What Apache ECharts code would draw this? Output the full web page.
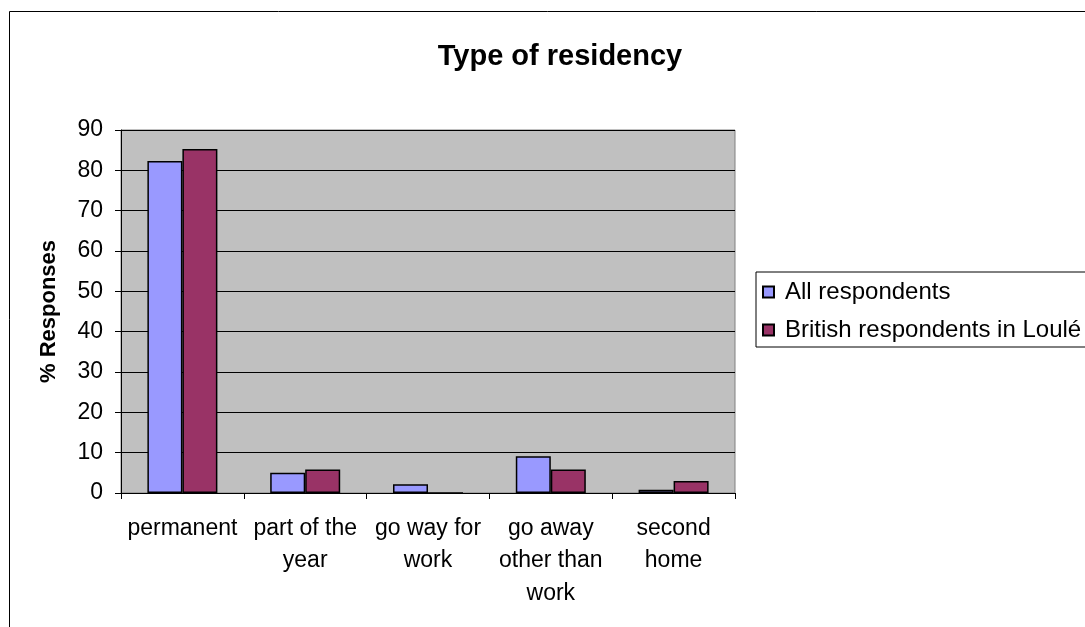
<!DOCTYPE html>
<html>
<head>
<meta charset="utf-8">
<title>Type of residency</title>
<script src="https://cdn.jsdelivr.net/npm/echarts@6/dist/echarts.min.js"></script>
<style>
	html, body { margin: 0; padding: 0; background: #fff; }
	#main { width: 1085px; height: 627px; }
</style>
</head>
<body>
<div id="main"></div>
<script>
// categories (with the line breaks of the original labels)
var categories = ['permanent', 'part of the\nyear', 'go way for\nwork', 'go away\nother than\nwork', 'second\nhome'];
var allRespondents = [82.3, 5, 2.2, 9.1, 0.8];
var britishLoule = [85.3, 5.8, 0, 5.8, 3];
var seriesNames = ['All respondents', 'British respondents in Loulé'];
var yTicks = [0, 10, 20, 30, 40, 50, 60, 70, 80, 90];

function initChart() {
	var font = 'Liberation Sans, Arial, sans-serif';
	var myChart = echarts.init(document.getElementById('main'));
	var option = {
		animation: false,
		textStyle: { fontFamily: font, color: '#000' },
		title: {
			text: 'Type of residency',
			left: 555,
			top: 37,
			textAlign: 'center',
			textStyle: { fontFamily: font, fontSize: 29, fontWeight: 'bold', color: '#000' }
		},
		// outer chart border (clipped on right/bottom like the original)
		graphic: [{
			type: 'rect',
			shape: { x: 9.5, y: 11.5, width: 1200, height: 800 },
			style: { fill: 'none', stroke: '#000', lineWidth: 1 },
			silent: true
		}],
		legend: {
			orient: 'vertical',
			left: 756,
			top: 272,
			data: seriesNames,
			icon: 'rect',
			itemWidth: 11,
			itemHeight: 11,
			itemGap: 14,
			borderColor: '#000',
			borderWidth: 1,
			padding: [8, 20, 5, 6],
			textStyle: { fontFamily: font, fontSize: 24, lineHeight: 24, color: '#000', padding: [0, 0, 0, 6] }
		},
		grid: {
			left: 121,
			top: 130,
			right: 350,
			bottom: 134,
			show: true,
			backgroundColor: '#C0C0C0',
			borderColor: '#808080',
			borderWidth: 1
		},
		xAxis: {
			type: 'category',
			data: categories,
			axisLine: { lineStyle: { color: '#000', width: 1 } },
			axisTick: { show: true, length: 6, lineStyle: { color: '#000' } },
			axisLabel: {
				fontFamily: font,
				fontSize: 23,
				color: '#000',
				margin: 19,
				lineHeight: 32.5,
				interval: 0,
				align: 'center'
			}
		},
		yAxis: {
			type: 'value',
			min: yTicks[0],
			max: yTicks[yTicks.length - 1],
			interval: 10,
			name: '% Responses',
			nameLocation: 'middle',
			nameRotate: 90,
			nameGap: 61,
			nameTextStyle: { fontFamily: font, fontSize: 22, fontWeight: 'bold', color: '#000' },
			axisLine: { show: true, lineStyle: { color: '#000', width: 1 } },
			axisTick: { show: true, length: 6, lineStyle: { color: '#000' } },
			axisLabel: { fontFamily: font, fontSize: 23, color: '#000', margin: 18 },
			splitLine: { show: true, lineStyle: { color: '#000', width: 1 } }
		},
		series: [{
			name: seriesNames[0],
			type: 'bar',
			data: allRespondents,
			barWidth: 35,
			barGap: '0%',
			itemStyle: { color: '#9999FF', borderColor: '#000', borderWidth: 1.5 }
		}, {
			name: seriesNames[1],
			type: 'bar',
			data: britishLoule,
			barWidth: 35,
			barGap: '0%',
			itemStyle: { color: '#993366', borderColor: '#000', borderWidth: 1.5 }
		}]
	};
	myChart.setOption(option);
}
initChart();
</script>
</body>
</html>
